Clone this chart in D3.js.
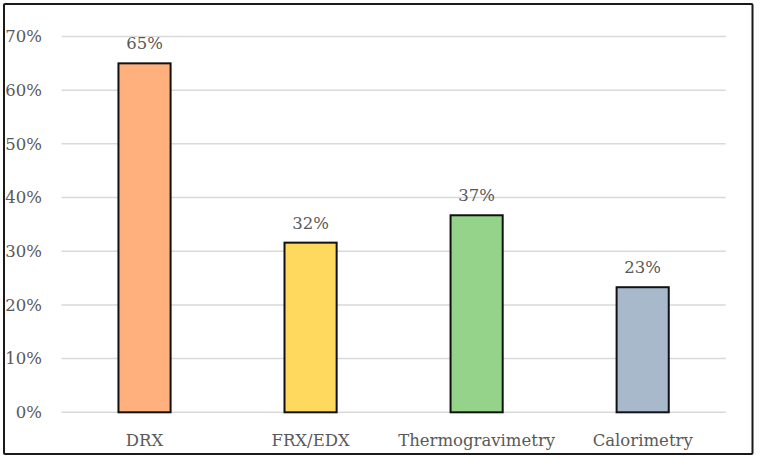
<!DOCTYPE html>
<html><head><meta charset="utf-8">
<script src="https://cdn.jsdelivr.net/npm/d3@7"></script>
<style>body{margin:0;background:#fff;}svg{display:block;}</style>
</head><body>
<script>
const categories = ["DRX", "FRX/EDX", "Thermogravimetry", "Calorimetry"];
const values = [0.65, 0.316, 0.367, 0.233];
const valueLabels = ["65%", "32%", "37%", "23%"];
const colors = ["#FFB07C", "#FFD95E", "#94D389", "#A8B9CC"];
const yTicks = [0, 0.1, 0.2, 0.3, 0.4, 0.5, 0.6, 0.7];

(function () {
const W = 760, H = 461;
const svg = d3.select("body").append("svg").attr("width", W).attr("height", H);
const font = "'DejaVu Serif', serif";
const textColor = "#595959";

svg.append("rect").attr("x", 4).attr("y", 4).attr("width", 748.5).attr("height", 450)
  .attr("fill", "#fff").attr("stroke", "#1a1a1a").attr("stroke-width", 2).attr("rx", 1);

const mLeft = 61.5, mRight = 725.7, mTop = 36.5, mBottom = 412.3;
const x = d3.scaleBand().domain(categories).range([mLeft, mRight]).paddingInner(0.686).paddingOuter(0.343);
const y = d3.scaleLinear().domain([0, 0.7]).range([mBottom, mTop]);

svg.append("g").selectAll("line").data(yTicks).join("line")
  .attr("x1", mLeft).attr("x2", mRight)
  .attr("y1", d => y(d)).attr("y2", d => y(d))
  .attr("stroke", "#d9d9d9").attr("stroke-width", 1.5);

const yAxis = d3.axisLeft(y).tickValues(yTicks).tickFormat(d3.format(".0%")).tickSize(0).tickPadding(0);
const gy = svg.append("g").attr("transform", `translate(42,0)`).call(yAxis);
gy.select(".domain").remove();
gy.selectAll("text").attr("font-family", font).attr("font-size", 16.5).attr("fill", textColor);

svg.append("g").selectAll("rect").data(categories).join("rect")
  .attr("x", d => x(d)).attr("width", x.bandwidth())
  .attr("y", (d, i) => y(values[i])).attr("height", (d, i) => y(0) - y(values[i]))
  .attr("fill", (d, i) => colors[i]).attr("stroke", "#111").attr("stroke-width", 2);

svg.append("g").selectAll("text").data(categories).join("text")
  .attr("x", d => x(d) + x.bandwidth() / 2)
  .attr("y", (d, i) => y(values[i]) - 14)
  .attr("text-anchor", "middle")
  .attr("font-family", font).attr("font-size", 16.5).attr("fill", textColor)
  .text((d, i) => valueLabels[i]);

const xAxis = d3.axisBottom(x).tickSize(0).tickPadding(0);
const gx = svg.append("g").attr("transform", `translate(0,${mBottom})`).call(xAxis);
gx.select(".domain").remove();
gx.selectAll("text").attr("dy", null).attr("y", 33.4)
  .attr("font-family", font).attr("font-size", 16.5).attr("fill", textColor);
})();
</script>
</body></html>
